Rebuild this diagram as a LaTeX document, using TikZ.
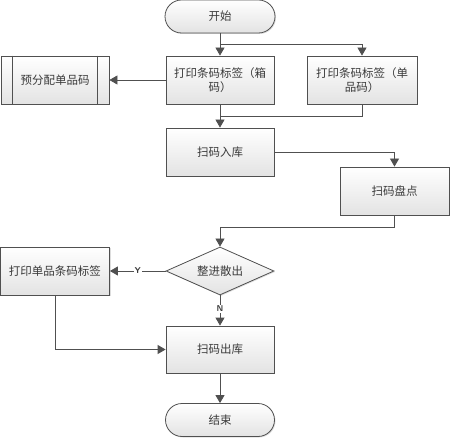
\documentclass[tikz,border=0pt]{standalone}
\usepackage{fontspec}
\setmainfont{Noto Sans CJK SC}
\usetikzlibrary{shapes.geometric,shapes.misc,arrows.meta,shadows,calc}
\definecolor{edgec}{HTML}{505050}
\definecolor{txtc}{HTML}{3A3A3A}
\tikzset{
  base/.style={draw=edgec, line width=0.8pt, top color=white, bottom color=gray!22,
    text=txtc, font=\fontsize{11.5}{14}\selectfont, align=center, inner sep=0pt,
    drop shadow={shadow xshift=1pt, shadow yshift=-1pt, fill=gray!45, opacity=0.6}},
  procbox/.style={base, rectangle, minimum width=108pt, minimum height=48pt},
  termbox/.style={base, rounded rectangle, minimum width=110pt, minimum height=33pt},
  decbox/.style={base, diamond, aspect=2.25, minimum width=108pt, minimum height=48pt},
  predef/.style={procbox},
  conn/.style={draw=edgec, line width=0.8pt, -{Triangle[width=9pt,length=8pt]}},
  plain/.style={draw=edgec, line width=0.8pt},
  lbl/.style={fill=white, inner sep=1pt, text=txtc, font=\sffamily\bfseries\fontsize{8.5}{9}\selectfont}
}
\begin{document}
\begin{tikzpicture}[x=1pt,y=-1pt]
\useasboundingbox (0,0) rectangle (452,438);
\node[termbox] (start) at (220,16.5) {开始};
\node[procbox] (boxA) at (220,80) {打印条码标签（箱\\码）};
\node[procbox, minimum width=110pt] (boxB) at (362,80) {打印条码标签（单\\品码）};
\node[predef] (pre) at (55,80) {预分配单品码};
\draw[plain] ($(pre.north west)+(12,0)$) -- ($(pre.south west)+(12,0)$);
\draw[plain] ($(pre.north east)+(-12,0)$) -- ($(pre.south east)+(-12,0)$);
\node[procbox] (in) at (220,152) {扫码入库};
\node[procbox, minimum width=109pt] (check) at (394.5,191) {扫码盘点};
\node[decbox] (dec) at (220,271) {整进散出};
\node[procbox, minimum width=109pt] (printS) at (55,271) {打印单品条码标签};
\node[procbox, minimum height=47pt] (out) at (220,349.5) {扫码出库};
\node[termbox, minimum width=109pt] (end) at (220,420) {结束};

\coordinate (j1) at (220,44);
\coordinate (j2) at (220,116);
\coordinate (j3) at (394.5,227);

\draw[conn] (start.south) -- (boxA.north);
\draw[conn] (j1) -| (boxB.north);
\draw[conn] (boxA.west) -- (pre.east);
\draw[conn] (boxA.south) -- (in.north);
\draw[plain] (boxB.south) |- (j2);
\draw[conn] (in.east) -| (check.north);
\draw[plain] (check.south) -- (j3);
\draw[conn] (j3) -| (dec.north);
\draw[conn] (dec.west) -- node[lbl, pos=0.5] {Y} (printS.east);
\draw[conn] (dec.south) -- node[lbl, pos=0.45] {N} (out.north);
\draw[conn] (printS.south) |- (out.west);
\draw[conn] (out.south) -- (end.north);
\end{tikzpicture}
\end{document}
